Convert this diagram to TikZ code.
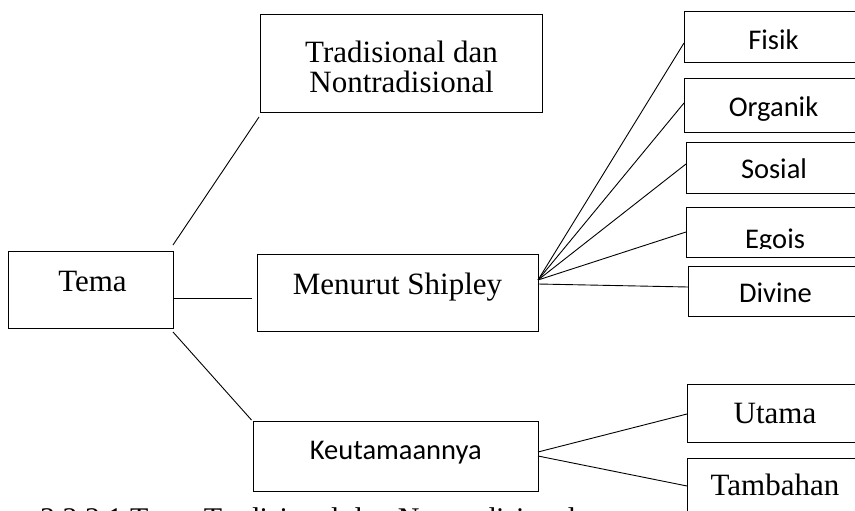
\documentclass[tikz,border=0pt]{standalone}
\usepackage{fontspec}
\setmainfont{Liberation Serif}
\newfontfamily\calib{Carlito}
\begin{document}
\begin{tikzpicture}[x=1pt,y=-1pt,
  box/.style={draw=black,line width=1pt,inner sep=0pt,outer sep=0pt},
  ln/.style={draw=black,line width=0.9pt},
  ser/.style={inner sep=0pt,anchor=base,font=\fontsize{31}{31}\selectfont},
  cal/.style={inner sep=0pt,anchor=base,font=\calib\fontsize{28.5}{28.5}\selectfont}]
\useasboundingbox (0,0) rectangle (855,511);
\clip (0,0) rectangle (855,511);
% boxes
\node[box,minimum width=282,minimum height=98] (trad) at (401,64) {};
\node[box,minimum width=165,minimum height=77] (tema) at (90.5,289.5) {};
\node[box,minimum width=281,minimum height=77] (ship) at (397.5,292.5) {};
\node[box,minimum width=284.5,minimum height=70] (keut) at (395.75,456) {};
\node[box,minimum width=179,minimum height=51] (fisik) at (773.5,37.5) {};
\node[box,minimum width=179,minimum height=53] (organik) at (773.5,105.5) {};
\node[box,minimum width=177,minimum height=51] (sosial) at (774.5,167.5) {};
\node[box,minimum width=177,minimum height=50] (egois) at (774.5,232) {};
\node[box,minimum width=175,minimum height=50] (divine) at (775.5,291) {};
\node[box,minimum width=176,minimum height=58] (utama) at (775,413) {};
\node[box,minimum width=176,minimum height=62] (tambahan) at (775,489) {};
% connectors
\draw[ln] ([yshift=6]tema.north east) -- ([xshift=-1,yshift=-4]trad.south west);
\draw[ln] ([yshift=-8.5]tema.east) -- ([xshift=-5,yshift=-5.5]ship.west);
\draw[ln] ([yshift=-4]tema.south east) -- ([xshift=-2,yshift=1]keut.north west);
\draw[ln] ([yshift=12.5]ship.east) -- ([yshift=-5.5]fisik.west);
\draw[ln] ([yshift=12.5]ship.east) -- ([yshift=2.5]organik.west);
\draw[ln] ([yshift=12.5]ship.east) -- ([yshift=3.5]sosial.west);
\draw[ln] ([yshift=12.5]ship.east) -- (egois.west);
\draw[ln] ([yshift=8.5]ship.east) -- ([yshift=4]divine.west);
\draw[ln] ([yshift=4]keut.east) -- ([yshift=-1]utama.west);
\draw[ln] (keut.east) -- ([yshift=3]tambahan.west);
% texts
\node[ser] (t1) at (401.5,63) {Tradisional dan};
\node[ser] (t2) at (401.5,93) {Nontradisional};
\node[ser] (t3) at (92.5,291) {Tema};
\node[ser] (t4) at (397.5,294) {Menurut Shipley};
\node[cal] (t5) at (395.8,459) {Keutamaannya};
\node[cal] (t6) at (773.5,50) {Fisik};
\node[cal] (t7) at (773.5,117) {Organik};
\node[cal] (t8) at (774,178) {Sosial};
\begin{scope}
\clip (686,207) rectangle (863,248.5);
\node[cal] (t9) at (775,248) {Egois};
\end{scope}
\node[cal] (t10) at (775.5,302) {Divine};
\node[ser] (t11) at (775,423) {Utama};
\node[ser] (t12) at (775,495) {Tambahan};
\node[ser,anchor=base west,font=\fontsize{30}{30}\selectfont] (cap) at (40,528) {3.2.2.1 Tema Tradisional dan Nontradisional};
\end{tikzpicture}
\end{document}
